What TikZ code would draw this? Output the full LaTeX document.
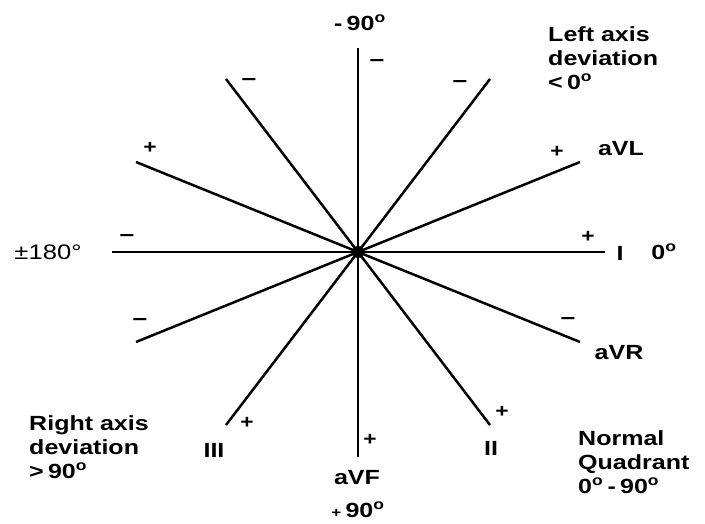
\documentclass[tikz,border=0pt]{standalone}
\usepackage{fontspec}
\setmainfont{Liberation Sans}
\usetikzlibrary{positioning}

\begin{document}
\begin{tikzpicture}[
    x=1pt, y=-1pt,
    spoke/.style={line width=2.5pt},
    lbl/.style={font=\fontsize{20.5}{24}\selectfont\bfseries, xscale=1.22, inner sep=0pt, align=left},
    sgn/.style={font=\fontsize{22}{22}\selectfont\bfseries, xscale=1.2, inner sep=0pt},
    psgn/.style={font=\fontsize{19}{20}\selectfont\bfseries, xscale=1.2, inner sep=0pt}
]
    \useasboundingbox (0,0) rectangle (705,524);

    % centre and the ends of the six leads
    \coordinate (o) at (358,252);
    \coordinate (e0) at (605,252);
    \coordinate (e30) at (580,162);
    \coordinate (e60) at (490,79);
    \coordinate (e90) at (358,48);
    \coordinate (e120) at (226,79);
    \coordinate (e150) at (136,162);
    \coordinate (e180) at (112,252);
    \coordinate (e210) at (136,342);
    \coordinate (e240) at (226,425);
    \coordinate (e270) at (358,457);
    \coordinate (e300) at (490,425);
    \coordinate (e330) at (580,342);

    \foreach \e in {e0,e30,e60,e90,e120,e150,e180,e210,e240,e270,e300,e330}
        \draw[spoke] (o) -- (\e);
    \fill (o) circle (6);

    % angle labels
    \node[lbl] (top) at (360,23) {-\,90\textsuperscript{o}};
    \node[lbl] (bot) at (358,510) {{\fontsize{14}{14}\selectfont+}\,90\textsuperscript{o}};
    \node[lbl, font=\fontsize{21}{24}\selectfont] (left) at (48,252) {±180°};
    \node[lbl] (zero) at (664,252) {0\textsuperscript{o}};

    % lead names
    \node[lbl] (avl) at (621,149) {aVL};
    \node[lbl] (lI) at (620,253) {I};
    \node[lbl] (avr) at (619,353) {aVR};
    \node[lbl] (lII) at (491,448) {II};
    \node[lbl] (avf) at (357,478) {aVF};
    \node[lbl] (lIII) at (214,450) {III};

    % quadrant notes
    \node[lbl, anchor=west] (lad) at (548,58) {Left axis\\deviation\\<\,0\textsuperscript{o}};
    \node[lbl, anchor=west] (rad) at (29,447) {Right axis\\deviation\\>\,90\textsuperscript{o}};
    \node[lbl, anchor=west] (nq) at (578,462) {Normal\\Quadrant\\0\textsuperscript{o}\,-\,90\textsuperscript{o}};

    % poles
    \node[sgn] (m120) at (249,82) {–};
    \node[sgn] (m90) at (377,63) {–};
    \node[sgn] (m60) at (460,84) {–};
    \node[sgn] (m180) at (127,238) {–};
    \node[sgn] (m210) at (140,322) {–};
    \node[sgn] (m330) at (568,321) {–};
    \node[psgn] (p150) at (150,148) {+};
    \node[psgn] (p30) at (557,152) {+};
    \node[psgn] (p0) at (588,237) {+};
    \node[psgn] (p240) at (247,423) {+};
    \node[psgn] (p270) at (370,440) {+};
    \node[psgn] (p300) at (502,412) {+};
\end{tikzpicture}
\end{document}
